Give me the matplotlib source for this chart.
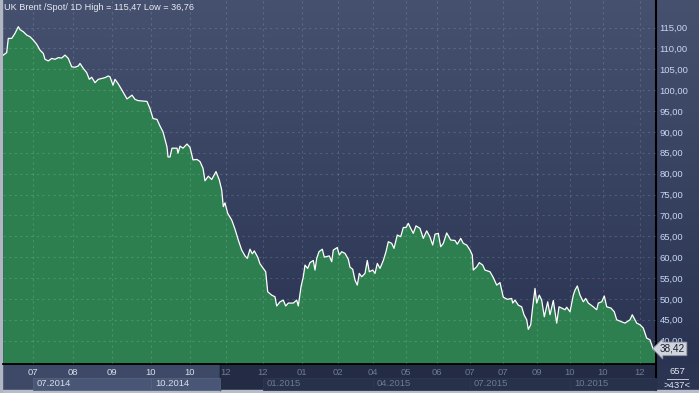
import numpy as np
import matplotlib.pyplot as plt
from matplotlib.patches import Rectangle
from matplotlib.colors import LinearSegmentedColormap

# bar position (chart units) and Brent spot close
days = [0.3, 3.7, 5.3, 8.7, 12, 15.3, 17, 20.3, 23.7, 27, 30.3, 33.7, 37, 40.3, 42, 45.3,
        48.7, 52, 55.3, 58.7, 62, 65.3, 68.7, 72, 75.3, 77, 80.3, 83.7, 86.3, 88.7, 92,
        95.3, 98.7, 102, 105.3, 107, 110, 112, 115, 119, 124, 129, 132, 135, 139, 144,
        147, 150, 154, 157, 160, 164, 165, 167, 169, 174, 175, 177, 180, 184, 187, 190,
        194, 197, 200, 202, 205.3, 208.7, 213, 216.3, 218.7, 220.3, 222, 224.7, 228.7,
        232, 235.3, 238.7, 242, 244.3, 247, 249.3, 251.3, 254.7, 257, 260.3, 262.7,
        264.7, 268.7, 272, 273.7, 277, 280.3, 282.7, 285.3, 290.3, 293.7, 295.3, 298,
        300.3, 302, 304.7, 307, 310.3, 312, 313.7, 316, 319.3, 321.3, 326.3, 328.7,
        330.3, 334.3, 336.3, 338.7, 342, 345.3, 347, 349.7, 352, 354.3, 356.3, 358.7,
        362, 364.3, 366.3, 369.7, 372, 374.3, 377, 380.3, 383, 385.3, 388.7, 391,
        394.3, 397.7, 400.3, 403, 405.3, 407.7, 410.3, 413, 417, 420.3, 423.7, 427,
        429.7, 432, 435.3, 437.7, 440.3, 443.7, 447.7, 452, 454.3, 457.7, 460.3, 463.7,
        467, 469.3, 470.3, 473.7, 476.3, 479.7, 482, 487, 490.3, 493.7, 497, 500.3,
        504.3, 508.7, 509.7, 512, 515.3, 518.7, 521, 523.7, 525.3, 527.7, 529.7, 532,
        533.7, 536.3, 538.7, 541.3, 544.7, 547, 550.3, 553.7, 556, 558.7, 562, 563.7,
        567, 570.3, 572, 574.3, 577, 580.3, 582.7, 585.3, 590.3, 593.7, 595.3, 598.7,
        601.3, 603.7, 608, 611.3, 613.7, 618.7, 622, 627, 629.3, 632, 633.7, 637,
        640.3, 643.7, 647, 650.3, 652]
prices = [108.4, 109.0, 112.4, 112.4, 113.6, 115.2, 114.5, 114.0, 113.2, 112.8, 112.0,
          111.0, 109.6, 108.8, 107.4, 107.0, 107.6, 107.4, 107.8, 107.7, 108.4, 107.6,
          105.6, 105.5, 105.8, 106.4, 105.2, 104.2, 102.6, 103.1, 101.8, 102.6, 102.8,
          103.0, 103.4, 103.2, 101.2, 102.6, 101.6, 100.0, 97.9, 98.8, 97.8, 97.5, 97.4,
          97.3, 95.6, 93.2, 93.0, 91.4, 90.0, 86.4, 84.0, 84.0, 86.1, 86.1, 84.9, 86.6,
          86.1, 87.1, 86.3, 83.3, 83.4, 82.9, 81.3, 78.3, 79.4, 78.6, 80.5, 78.5, 76.1,
          72.1, 73.0, 70.5, 68.9, 66.7, 64.1, 61.7, 60.3, 59.7, 61.9, 60.8, 61.5, 60.0,
          58.4, 57.3, 56.5, 51.7, 50.9, 50.5, 48.3, 49.3, 49.7, 48.3, 49.0, 49.0, 49.7,
          48.3, 52.9, 55.3, 58.1, 57.3, 58.7, 59.2, 56.9, 59.7, 61.3, 61.9, 60.0, 60.3,
          58.9, 61.7, 62.3, 60.5, 61.3, 60.9, 59.5, 57.6, 57.1, 54.5, 53.3, 56.1, 55.3,
          56.1, 59.2, 56.5, 56.9, 56.1, 58.5, 57.3, 59.2, 61.3, 63.7, 63.3, 62.1, 65.3,
          64.9, 67.1, 67.1, 68.1, 66.9, 65.7, 67.5, 66.9, 64.5, 66.3, 64.8, 62.9, 65.5,
          65.7, 62.5, 63.3, 65.8, 64.1, 64.0, 63.1, 64.5, 63.3, 62.9, 61.7, 60.5, 56.9,
          57.7, 58.7, 58.1, 56.9, 56.5, 55.1, 53.3, 53.9, 50.4, 49.9, 50.1, 49.0, 49.7,
          48.5, 48.1, 46.2, 45.0, 42.7, 43.8, 48.1, 52.5, 49.0, 50.9, 49.7, 45.7, 49.3,
          46.2, 49.6, 44.2, 48.1, 47.8, 47.4, 48.0, 46.9, 50.9, 52.1, 53.1, 50.9, 49.3,
          50.1, 49.0, 48.1, 47.4, 49.0, 49.3, 50.7, 48.1, 47.8, 46.9, 45.0, 44.5, 44.2,
          45.0, 46.2, 45.0, 44.2, 43.8, 43.0, 40.6, 40.2, 37.9, 38.42]

tick_pos = [30, 70, 109, 148, 187, 223, 260, 299, 335, 370, 403, 434, 467, 500, 534,
            567, 600, 637]
tick_lab = ['07', '08', '09', '10', '10', '12', '12', '01', '02', '04', '05', '06',
            '07', '07', '09', '10', '10', '12']
year_pos = [30, 148, 260, 370, 467, 567]
year_end = [148, 217, 370, 467, 567, 653]
year_lab = ['07.2014', '10.2014', '01.2015', '04.2015', '07.2015', '10.2015']

title = 'UK Brent /Spot/ 1D High = 115,47 Low = 36,76'

W, H = 699, 393
plt.rcParams['font.family'] = ['Liberation Sans', 'DejaVu Sans']
fig = plt.figure(figsize=(W / 100, H / 100), dpi=100)

# background panels in pixel coordinates
bg = fig.add_axes([0, 0, 1, 1])
bg.set_xlim(0, W)
bg.set_ylim(H, 0)
bg.axis('off')
cmap = LinearSegmentedColormap.from_list('bg', ['#45516f', '#2a3452'])
bg.imshow(np.linspace(0, 1, 256).reshape(-1, 1), cmap=cmap, extent=(0, W, 364, 0),
          aspect='auto')
bg.add_patch(Rectangle((0, 364), 220, 29, color='#3d4966'))
bg.add_patch(Rectangle((220, 364), 436, 29, color='#232c44'))
bg.add_patch(Rectangle((656, 364), 43, 29, color='#2b3551'))
bg.add_patch(Rectangle((0, 390), W, 3, color='#b8bec9'))
bg.add_patch(Rectangle((0, 0), 2, 393, color='#b0b6c2'))
bg.plot([656, 656], [0, 390], color='black', lw=1.5)
bg.plot([220, 220], [364, 390], color='#1c2338', lw=1)
bg.plot([667, 688], [379, 379], color='#c0c8d8', lw=0.7)
bg.text(677, 372, '657', color='#dfe6f2', fontsize=6.8, ha='center', va='center')
bg.text(677, 386, '>437<', color='#dfe6f2', fontsize=6.8, ha='center', va='center')
bg.text(4, 8, title, color='#e6ebf3', fontsize=6.6, va='center')

ax = fig.add_axes([3 / W, (H - 364) / H, 653 / W, 364 / H])
ax.set_facecolor('none')
ax.fill_between(days, prices, 0, color='#2e7f4f', lw=0, zorder=2)
ax.plot(days, prices, color='white', lw=0.9, zorder=4)
ax.set_xlim(0, 653)
ax.set_ylim(34.4, 121.6)

ax.set_axisbelow(False)
ax.grid(color='white', alpha=0.14, ls=(0, (2, 3)), lw=0.8)

yt = np.arange(40, 120, 5)
ax.yaxis.tick_right()
ax.set_yticks(yt, [f'{v:.2f}'.replace('.', ',') for v in yt])
ax.tick_params(axis='y', length=0, pad=2.5, labelsize=6.8, labelcolor='#c8d7f0')

ax.set_xticks(tick_pos, tick_lab)
ax.tick_params(axis='x', length=0, pad=3, labelsize=6.8)
for i, t in enumerate(ax.get_xticklabels()):
    t.set_color('#d6deec' if i < 5 else '#6d7995')

for spine in ['left', 'top', 'right']:
    ax.spines[spine].set_visible(False)
ax.spines['bottom'].set_color('black')
ax.spines['bottom'].set_linewidth(1.3)

tr = ax.get_xaxis_transform()
for i, (x0, x1, lab) in enumerate(zip(year_pos, year_end, year_lab)):
    light = i < 2
    ax.add_patch(Rectangle((x0, -26 / 364), x1 - x0, 12 / 364, transform=tr,
                           clip_on=False, fc='#4a5675' if light else '#273149',
                           ec='#56627f' if light else '#2e3852', lw=0.6, zorder=1))
    ax.text(x0 + 4, -20 / 364, lab, transform=tr, fontsize=6.8, va='center',
            color='#d6deec' if light else '#6d7995', clip_on=False)

ax.text(1.006, prices[-1] - 0.4, f'{prices[-1]:.2f}'.replace('.', ','),
        transform=ax.get_yaxis_transform(), fontsize=7.2, color='#1a2030',
        va='center', ha='left', zorder=10, clip_on=False,
        bbox=dict(boxstyle='larrow,pad=0.18', fc='#d0d4dc', ec='#8a92a2', lw=0.6))

fig.savefig('out.png', dpi=100)
